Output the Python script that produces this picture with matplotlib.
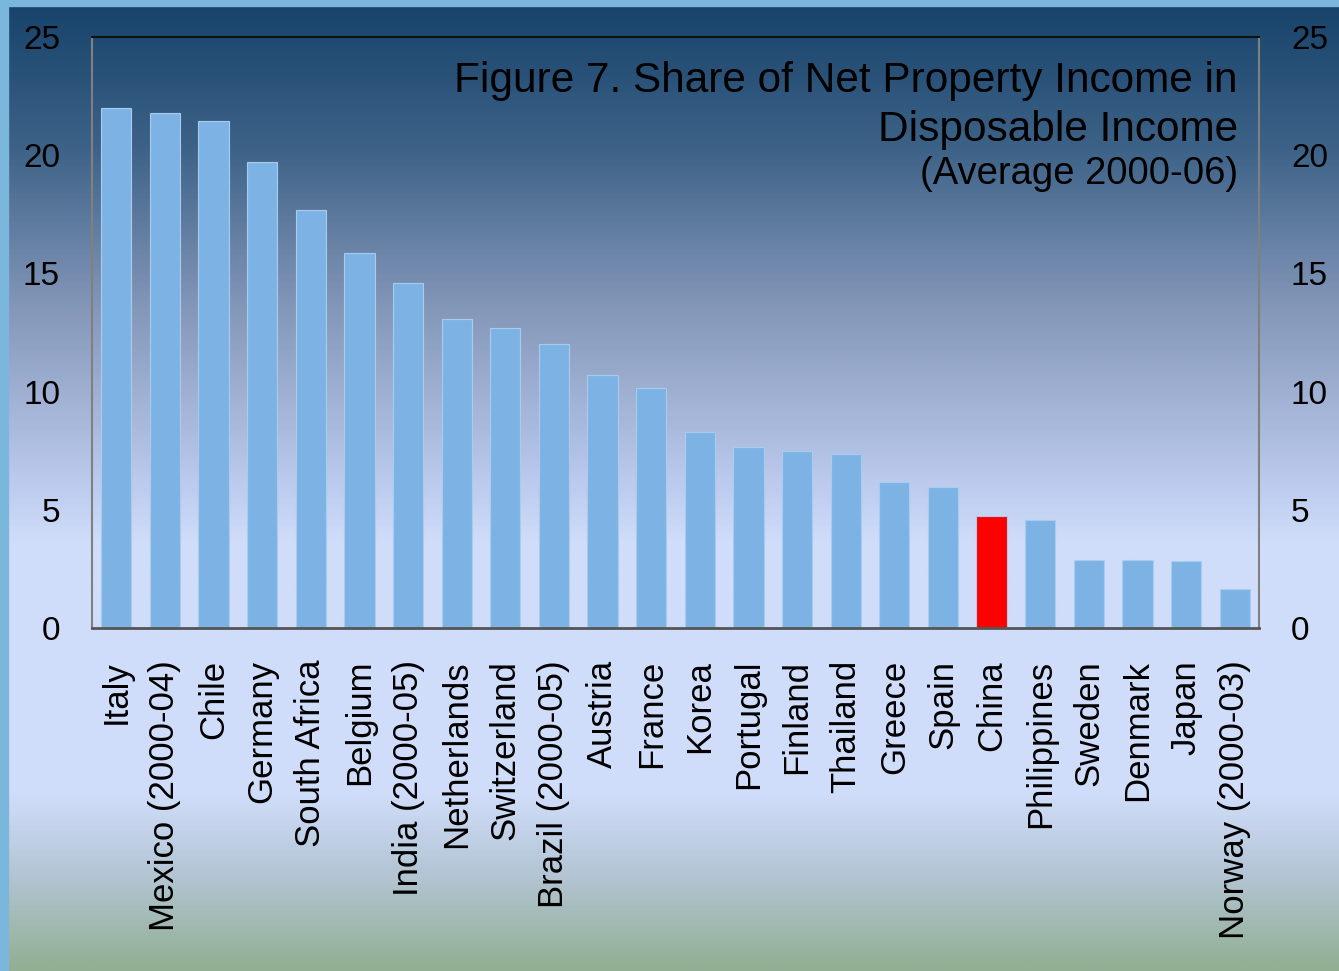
import matplotlib.pyplot as plt
import numpy as np
from matplotlib.colors import LinearSegmentedColormap

plt.rcParams["font.family"] = ["Liberation Sans", "DejaVu Sans"]

countries = ["Italy", "Mexico (2000-04)", "Chile", "Germany", "South Africa",
             "Belgium", "India (2000-05)", "Netherlands", "Switzerland",
             "Brazil (2000-05)", "Austria", "France", "Korea", "Portugal",
             "Finland", "Thailand", "Greece", "Spain", "China", "Philippines",
             "Sweden", "Denmark", "Japan", "Norway (2000-03)"]
share = [22.0, 21.8, 21.45, 19.7, 17.7, 15.85, 14.6, 13.05, 12.7, 12.0,
         10.7, 10.17, 8.3, 7.67, 7.5, 7.37, 6.19, 5.97, 4.75, 4.58,
         2.88, 2.88, 2.84, 1.65]
yticks = [0, 5, 10, 15, 20, 25]
title_lines = ["Figure 7. Share of Net Property Income in",
               "Disposable Income",
               "(Average 2000-06)"]

W, H = 1339, 971
fig = plt.figure(figsize=(W / 100, H / 100), dpi=100)

# background gradient
bg = fig.add_axes([0, 0, 1, 1], zorder=-10)
bg.axis("off")
cmap = LinearSegmentedColormap.from_list("bg", [
    (0.0, "#17426a"), (0.15, "#3d6287"), (0.32, "#8598ba"),
    (0.5, "#bccbee"), (0.56, "#d0ddfa"), (0.82, "#d0ddfa"),
    (0.9, "#b4c6d6"), (1.0, "#92af94")])
grad = np.linspace(0, 1, 400).reshape(-1, 1)
bg.imshow(grad, aspect="auto", cmap=cmap, extent=[0, 1, 0, 1])
# light blue frame on left and top
bg.axvspan(0, 8 / W, color="#7bb7dd")
bg.axhspan(1 - 6 / H, 1, color="#7bb7dd")
bg.set_xlim(0, 1)
bg.set_ylim(0, 1)

ax = fig.add_axes([92 / W, 1 - 628 / H, (1259 - 92) / W, (628 - 37) / H])
ax.patch.set_alpha(0)
x = np.arange(len(countries))
colors = ["#ff0000" if c == "China" else "#7db3e4" for c in countries]
ax.bar(x, share, width=0.62, color=colors, edgecolor="#a8ccee", linewidth=0.8)
ax.set_xlim(-0.5, len(countries) - 0.5)
ax.set_ylim(0, 25)
ax.set_yticks(yticks)
ax.tick_params(axis="y", length=0, labelsize=24, pad=23, labelright=True)
ax.tick_params(axis="x", length=0, labelsize=25, pad=23)
ax.set_xticks(x)
ax.set_xticklabels(countries, rotation=90, va="top", ha="center")
for s in ["left", "right"]:
    ax.spines[s].set_color("#808080")
    ax.spines[s].set_linewidth(1.5)
ax.spines["top"].set_color("#111111")
ax.spines["top"].set_linewidth(1.5)
ax.spines["bottom"].set_color("#555555")
ax.spines["bottom"].set_linewidth(2)

# title, right aligned inside the plot
for line, base, size in zip(title_lines, [92, 141, 184], [30.5, 30.5, 27.5]):
    fig.text(1238 / W, 1 - base / H, line, ha="right", va="baseline",
             fontsize=size)

fig.savefig("out.png", dpi=100)
